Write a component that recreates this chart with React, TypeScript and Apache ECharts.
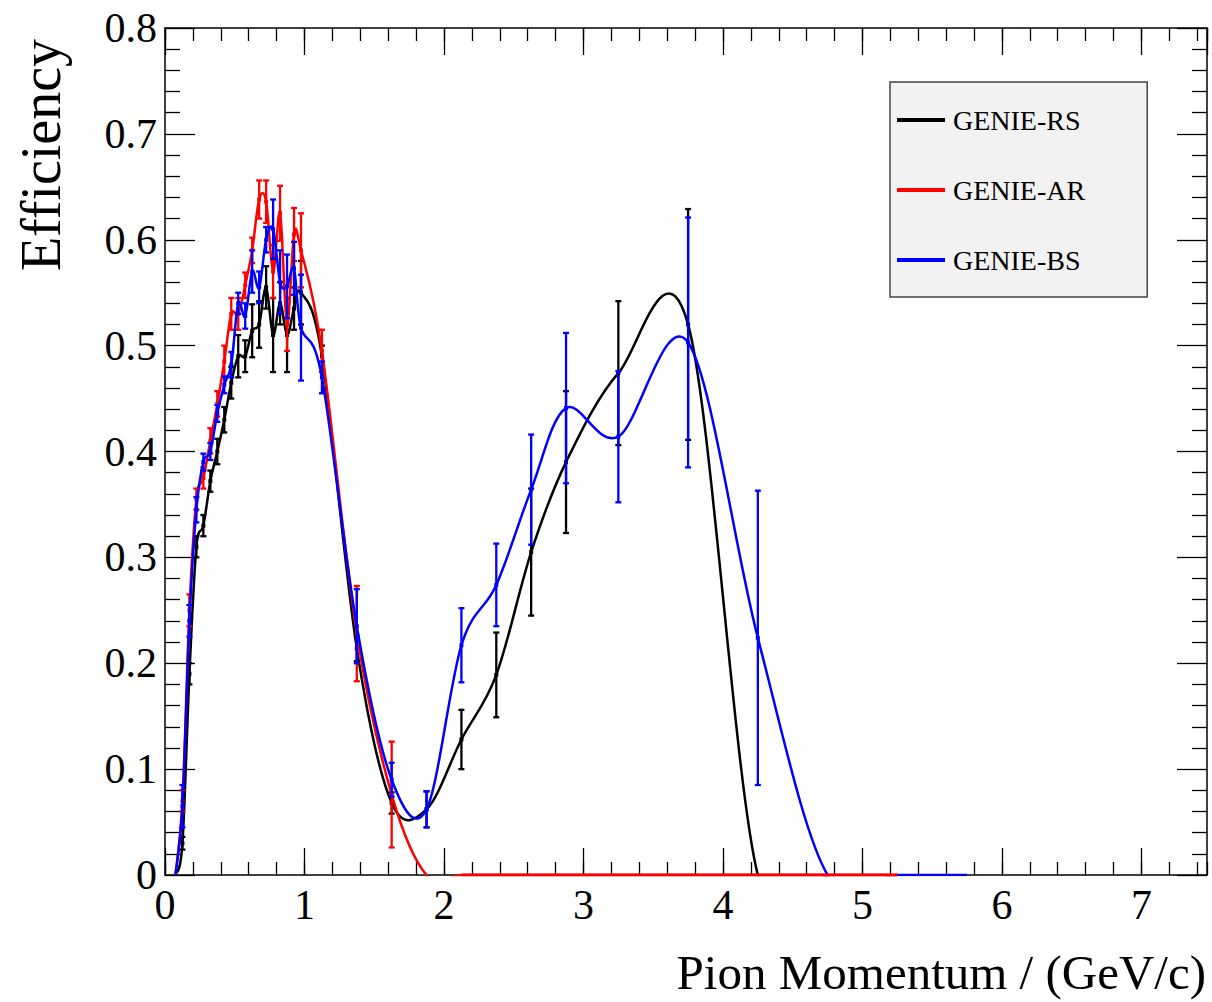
import React, { useEffect, useRef } from "react";
import * as echarts from "echarts";

// Momentum bin centres (GeV/c)
const binCenters = [
  0.075, 0.125, 0.175, 0.225, 0.275, 0.325, 0.375, 0.425, 0.475, 0.525,
  0.575, 0.625, 0.675, 0.725, 0.775, 0.825, 0.875, 0.925, 0.975, 1.125,
  1.375, 1.625, 1.875, 2.125, 2.375, 2.625, 2.875, 3.25, 3.75, 4.25,
  4.75, 5.25, 5.75,
];

// GENIE-RS (black)
const rsEff = [
  0, 0.03, 0.19, 0.31, 0.33, 0.372, 0.4, 0.43, 0.465, 0.49,
  0.49, 0.514, 0.52, 0.555, 0.51, 0.54, 0.51, 0.535, 0.55, 0.49,
  0.214, 0.068, 0.062, 0.128, 0.189, 0.305, 0.39, 0.474, 0.52, 0,
  0, null, null,
];
const rsErr = [
  0, 0.006, 0.01, 0.01, 0.01, 0.01, 0.012, 0.012, 0.015, 0.02,
  0.015, 0.025, 0.022, 0.02, 0.035, 0.02, 0.035, 0.02, 0.03, 0.01,
  0.012, 0.01, 0.017, 0.028, 0.04, 0.06, 0.067, 0.068, 0.109, 0,
  0, 0, 0,
];

// GENIE-AR (red)
const arEff = [
  0, 0.07, 0.25, 0.355, 0.375, 0.41, 0.445, 0.485, 0.53, 0.53,
  0.557, 0.59, 0.638, 0.636, 0.57, 0.625, 0.52, 0.605, 0.59, 0.495,
  0.228, 0.076, 0, 0, 0, 0, 0, 0, 0, 0,
  0, 0, null,
];
const arErr = [
  0, 0.01, 0.015, 0.01, 0.01, 0.012, 0.012, 0.015, 0.015, 0.015,
  0.012, 0.012, 0.018, 0.02, 0.025, 0.026, 0.025, 0.025, 0.035, 0.02,
  0.045, 0.05, 0, 0, 0, 0, 0, 0, 0, 0,
  0, 0, 0,
];
// the red zero plateau is drawn over the other curves from this bin on
const arOverlayFrom = 2.125;

// GENIE-BS (blue)
const bsEff = [
  0, 0.065, 0.24, 0.345, 0.39, 0.4, 0.436, 0.463, 0.482, 0.54,
  0.528, 0.57, 0.555, 0.6, 0.61, 0.56, 0.556, 0.573, 0.517, 0.47,
  0.235, 0.09, 0.062, 0.217, 0.274, 0.364, 0.441, 0.414, 0.503, 0.224,
  0, 0, 0,
];
const bsErr = [
  0, 0.02, 0.015, 0.012, 0.008, 0.008, 0.008, 0.008, 0.012, 0.01,
  0.012, 0.02, 0.015, 0.012, 0.028, 0.03, 0.03, 0.025, 0.05, 0.015,
  0.035, 0.016, 0.017, 0.035, 0.039, 0.052, 0.071, 0.062, 0.118, 0.139,
  0, 0, 0,
];

const seriesNames = ["GENIE-RS", "GENIE-AR", "GENIE-BS"];
const seriesColors = ["#000000", "#ff0000", "#0000ff"];

const yTickLabels = ["0", "0.1", "0.2", "0.3", "0.4", "0.5", "0.6", "0.7", "0.8"];

const FONT = '"Liberation Serif", "Times New Roman", serif';

function toPoints(eff: (number | null)[], keep?: (x: number) => boolean) {
  const out: number[][] = [];
  binCenters.forEach((x, i) => {
    const v = eff[i];
    if (v === null || v === undefined) return;
    if (keep && !keep(x)) return;
    out.push([x, v]);
  });
  return out;
}

// smooth curve through the pixel points (Catmull-Rom as cubic Beziers)
function smoothPath(p: number[][]) {
  if (!p.length) return "";
  let d = `M${p[0][0]},${p[0][1]}`;
  for (let i = 0; i < p.length - 1; i++) {
    const p0 = p[i - 1] || p[i];
    const p1 = p[i];
    const p2 = p[i + 1];
    const p3 = p[i + 2] || p2;
    const c1x = p1[0] + (p2[0] - p0[0]) / 6;
    const c1y = p1[1] + (p2[1] - p0[1]) / 6;
    const c2x = p2[0] - (p3[0] - p1[0]) / 6;
    const c2y = p2[1] - (p3[1] - p1[1]) / 6;
    d += ` C${c1x},${c1y} ${c2x},${c2y} ${p2[0]},${p2[1]}`;
  }
  return d;
}

function curveSeries(name: string, color: string, pts: number[][], width = 2.5) {
  return {
    type: "custom",
    name,
    data: pts,
    clip: true,
    xAxisIndex: 0,
    yAxisIndex: 0,
    encode: { x: 0, y: 1 },
    itemStyle: { color },
    lineStyle: { width },
    renderItem: (params: any, api: any) => {
      if (params.dataIndexInside !== 0) return null;
      const px = pts.map((q) => api.coord(q));
      return {
        type: "path",
        shape: { pathData: smoothPath(px) },
        style: { stroke: color, lineWidth: width, fill: "none" },
      };
    },
  };
}

function errorSeries(name: string, color: string, eff: (number | null)[], err: number[]) {
  const data: number[][] = [];
  binCenters.forEach((x, i) => {
    const v = eff[i];
    if (v === null || v === undefined) return;
    if (!(err[i] > 0)) return;
    data.push([x, v, err[i]]);
  });
  return {
    type: "custom",
    name,
    data,
    clip: true,
    xAxisIndex: 0,
    yAxisIndex: 0,
    encode: { x: 0, y: 1 },
    itemStyle: { color },
    renderItem: (_params: any, api: any) => {
      const x = api.value(0);
      const y = api.value(1);
      const e = api.value(2);
      const top = api.coord([x, y + e]);
      const bot = api.coord([x, y - e]);
      const c = api.coord([x, y]);
      const st = { stroke: color, lineWidth: 2.3 };
      return {
        type: "group",
        children: [
          { type: "line", shape: { x1: top[0], y1: top[1], x2: bot[0], y2: bot[1] }, style: st },
          { type: "line", shape: { x1: top[0] - 3, y1: top[1], x2: top[0] + 3, y2: top[1] }, style: st },
          { type: "line", shape: { x1: bot[0] - 3, y1: bot[1], x2: bot[0] + 3, y2: bot[1] }, style: st },
          { type: "rect", shape: { x: c[0] - 2, y: c[1] - 2, width: 4, height: 4 }, style: { fill: color } },
        ],
      };
    },
  };
}

export default function App() {
  const ref = useRef<HTMLDivElement>(null);

  useEffect(() => {
    if (!ref.current) return;
    const chart = echarts.init(ref.current, undefined, { renderer: "svg" });

    const axisLineStyle = { color: "#000", width: 1.5 };
    const tickStyle = { color: "#000", width: 1.3 };
    const XMAX = 7.47;

    const xAxisBase = {
      type: "value",
      min: 0,
      max: XMAX,
      gridIndex: 0,
      splitLine: { show: false },
      axisLine: { show: true, onZero: false, lineStyle: axisLineStyle },
    };

    const option: any = {
      animation: false,
      backgroundColor: "#ffffff",
      grid: { left: 165, right: 5, top: 28, bottom: 127, containLabel: false },
      legend: {
        data: seriesNames,
        orient: "vertical",
        left: 890,
        top: 82,
        padding: [24, 62, 23, 7],
        itemGap: 42,
        itemWidth: 48,
        itemHeight: 4,
        icon: "rect",
        backgroundColor: "#f2f2f2",
        borderColor: "#444",
        borderWidth: 1.5,
        borderRadius: 0,
        textStyle: { fontFamily: FONT, fontSize: 28, color: "#000", padding: [0, 0, 0, 3] },
      },
      xAxis: [
        {
          ...xAxisBase,
          position: "bottom",
          interval: 1,
          axisTick: { show: true, inside: true, length: 27, lineStyle: tickStyle },
          axisLabel: {
            show: true,
            fontFamily: FONT,
            fontSize: 42,
            color: "#000",
            margin: 9,
            showMaxLabel: false,
            showMinLabel: true,
          },
        },
        {
          ...xAxisBase,
          position: "bottom",
          interval: 0.2,
          axisLine: { show: false, onZero: false },
          axisTick: { show: true, inside: true, length: 13, lineStyle: tickStyle },
          axisLabel: { show: false },
        },
        {
          ...xAxisBase,
          position: "top",
          interval: 1,
          axisTick: { show: true, inside: true, length: 27, lineStyle: tickStyle },
          axisLabel: { show: false },
        },
        {
          ...xAxisBase,
          position: "top",
          interval: 0.2,
          axisLine: { show: false, onZero: false },
          axisTick: { show: true, inside: true, length: 13, lineStyle: tickStyle },
          axisLabel: { show: false },
        },
      ],
      yAxis: [
        {
          type: "value",
          position: "left",
          min: 0,
          max: 0.8,
          interval: 0.1,
          splitLine: { show: false },
          axisLine: { show: true, onZero: false, lineStyle: axisLineStyle },
          axisTick: { show: true, inside: true, length: 30, lineStyle: tickStyle },
          minorTick: { show: true, splitNumber: 5, length: 15, lineStyle: tickStyle },
          axisLabel: {
            show: true,
            fontFamily: FONT,
            fontSize: 42,
            color: "#000",
            margin: 8,
            formatter: (v: number) => yTickLabels[Math.round(v * 10)] ?? String(v),
          },
        },
        {
          type: "value",
          position: "right",
          min: 0,
          max: 0.8,
          interval: 0.1,
          splitLine: { show: false },
          axisLine: { show: true, onZero: false, lineStyle: axisLineStyle },
          axisTick: { show: true, inside: true, length: 30, lineStyle: tickStyle },
          minorTick: { show: true, splitNumber: 5, length: 15, lineStyle: tickStyle },
          axisLabel: { show: false },
        },
      ],
      graphic: [
        {
          type: "text",
          x: 41,
          y: 155,
          rotation: Math.PI / 2,
          style: {
            text: "Efficiency",
            font: `56px ${FONT}`,
            fill: "#000",
            textAlign: "center",
            textVerticalAlign: "middle",
          },
        },
        {
          type: "text",
          x: 1206,
          y: 972,
          style: {
            text: "Pion Momentum / (GeV/c)",
            font: `49px ${FONT}`,
            fill: "#000",
            textAlign: "right",
            textVerticalAlign: "middle",
          },
        },
      ],
      series: [
        curveSeries(seriesNames[0], seriesColors[0], toPoints(rsEff)),
        errorSeries(seriesNames[0], seriesColors[0], rsEff, rsErr),
        curveSeries(seriesNames[1], seriesColors[1], toPoints(arEff)),
        errorSeries(seriesNames[1], seriesColors[1], arEff, arErr),
        curveSeries(seriesNames[2], seriesColors[2], toPoints(bsEff)),
        errorSeries(seriesNames[2], seriesColors[2], bsEff, bsErr),
        curveSeries(seriesNames[1], seriesColors[1], toPoints(arEff, (x) => x >= arOverlayFrom), 3),
      ],
    };

    chart.setOption(option);
    return () => chart.dispose();
  }, []);

  return (
    <div
      ref={ref}
      style={{ position: "fixed", left: 0, top: 0, width: 1212, height: 1002, background: "#fff" }}
    />
  );
}
